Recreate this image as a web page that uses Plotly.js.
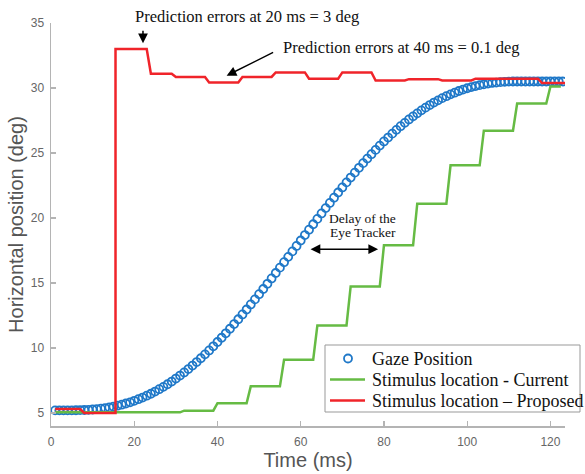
<!DOCTYPE html>
<html>
<head>
<meta charset="utf-8">
<script src="https://cdn.plot.ly/plotly-3.0.1.min.js"></script>
<style>
html,body{margin:0;padding:0;background:#fff;}
#chart{width:585px;height:474px;}
</style>
</head>
<body>
<div id="chart"></div>
<script>
// Gaze position samples (ms, deg)
var gazeT = [1,2,3,4,5,6,7,8,9,10,11,12,13,14,15,16,17,18,19,20,
  21,22,23,24,25,26,27,28,29,30,31,32,33,34,35,36,37,38,39,40,
  41,42,43,44,45,46,47,48,49,50,51,52,53,54,55,56,57,58,59,60,
  61,62,63,64,65,66,67,68,69,70,71,72,73,74,75,76,77,78,79,80,
  81,82,83,84,85,86,87,88,89,90,91,92,93,94,95,96,97,98,99,100,
  101,102,103,104,105,106,107,108,109,110,111,112,113,114,115,116,117,118,119,120,
  121,122,123];
var gazeV = [5.20,5.20,5.20,5.20,5.20,5.21,5.22,5.23,5.24,5.27,
  5.30,5.33,5.38,5.43,5.49,5.56,5.64,5.73,5.82,5.94,
  6.06,6.19,6.33,6.48,6.65,6.83,7.01,7.21,7.42,7.65,
  7.88,8.12,8.38,8.65,8.92,9.21,9.51,9.81,10.13,10.46,
  10.79,11.13,11.48,11.84,12.21,12.58,12.96,13.35,13.74,14.14,
  14.54,14.94,15.35,15.77,16.18,16.60,17.01,17.43,17.85,18.27,
  18.69,19.10,19.52,19.93,20.35,20.76,21.16,21.56,21.96,22.35,
  22.74,23.11,23.49,23.86,24.22,24.57,24.91,25.24,25.57,25.89,
  26.19,26.49,26.78,27.06,27.32,27.58,27.82,28.05,28.28,28.49,
  28.69,28.88,29.05,29.22,29.37,29.51,29.64,29.77,29.88,29.98,
  30.07,30.15,30.22,30.28,30.34,30.39,30.42,30.45,30.47,30.49,
  30.50,30.50,30.50,30.50,30.50,30.50,30.50,30.50,30.50,30.50,
  30.50,30.50,30.50];

// Stimulus location - Current (step breakpoints)
var currentT = [1,31,32,39,40,47,48,55,56,63,64,71,72,79,80,87,88,95,96,103,104,111,112,119,120,122.5];
var currentV = [5.05,5.05,5.18,5.18,5.75,5.75,7.05,7.05,9.1,9.1,11.74,11.74,14.74,14.74,17.9,17.9,21.1,21.1,24.05,24.05,26.72,26.72,28.8,28.8,30.12,30.12];

// Stimulus location - Proposed (step breakpoints)
var proposedT = [1,7,8,15.5,15.5,23,24,29,30,37,38,45,46,53,54,61,62,69,70,77,78,85,86,93,94,101,102,117,118,123.5];
var proposedV = [5.3,5.3,5.0,5.0,33.0,33.0,31.1,31.1,30.85,30.85,30.43,30.43,30.85,30.85,31.2,31.2,30.72,30.72,31.2,31.2,30.58,30.58,30.68,30.68,30.58,30.58,30.72,30.72,30.38,30.38];

var seriesNames = ['Gaze Position', 'Stimulus location - Current', 'Stimulus location \u2013 Proposed'];
var xTicks = [0,20,40,60,80,100,120];
var yTicks = [5,10,15,20,25,30,35];

var serif = '"Liberation Serif", "Times New Roman", serif';
var sans = '"Liberation Sans", Arial, Helvetica, sans-serif';
var blue = '#1f78c8', green = '#66bb44', red = '#f0242a';

// plot-area geometry (pixels) used to place the legend box
var W = 585, H = 474, M = {l: 51, r: 20, t: 23, b: 48};
var PW = W - M.l - M.r, PH = H - M.t - M.b;
function px(x) { return (x - M.l) / PW; }
function py(y) { return (H - M.b - y) / PH; }

var traces = [
  {x: gazeT, y: gazeV, type: 'scatter', mode: 'markers', name: seriesNames[0],
   marker: {symbol: 'circle-open', size: 8, color: blue, line: {width: 1.8, color: blue}}},
  {x: currentT, y: currentV, type: 'scatter', mode: 'lines', name: seriesNames[1],
   line: {color: green, width: 2.5}},
  {x: proposedT, y: proposedV, type: 'scatter', mode: 'lines', name: seriesNames[2],
   line: {color: red, width: 2.5}}
];

var axisCommon = {
  showline: true, linecolor: '#b4b4b4', linewidth: 1.5,
  ticks: 'inside', ticklen: 5, tickwidth: 1.2, tickcolor: '#b4b4b4',
  showgrid: false, zeroline: false, mirror: false,
  tickfont: {family: sans, size: 12, color: '#666'}
};

// legend drawn as a box with samples
var legRows = [358.5, 379.5, 400.5];
var shapes = [
  {type: 'rect', xref: 'paper', yref: 'paper', x0: px(325), x1: px(580), y0: py(412), y1: py(345),
   line: {color: '#999', width: 1}, fillcolor: '#fff', layer: 'above'},
  {type: 'circle', xref: 'paper', yref: 'paper', x0: px(344), x1: px(352), y0: py(legRows[0] + 4), y1: py(legRows[0] - 4),
   line: {color: blue, width: 1.8}, layer: 'above'},
  {type: 'line', xref: 'paper', yref: 'paper', x0: px(330), x1: px(365), y0: py(legRows[1]), y1: py(legRows[1]),
   line: {color: green, width: 2.5}, layer: 'above'},
  {type: 'line', xref: 'paper', yref: 'paper', x0: px(330), x1: px(365), y0: py(legRows[2]), y1: py(legRows[2]),
   line: {color: red, width: 2.5}, layer: 'above'}
];

var annotations = [
  {xref: 'x', yref: 'y', x: 47.0, y: 35, yshift: 7, text: 'Prediction errors at 20 ms = 3 deg',
   showarrow: false, font: {family: serif, size: 16.5, color: '#111'}},
  {xref: 'x', yref: 'y', x: 22.1, y: 33.45, text: '', showarrow: true,
   ax: 0, ay: -14, arrowhead: 2, arrowsize: 1.3, arrowwidth: 1.5, arrowcolor: '#000'},
  {xref: 'x', yref: 'y', x: 84.1, y: 33.12, text: 'Prediction errors at 40 ms = 0.1 deg',
   showarrow: false, font: {family: serif, size: 16.5, color: '#111'}},
  {xref: 'x', yref: 'y', x: 42.2, y: 30.95, text: '', showarrow: true,
   ax: 48, ay: -24, arrowhead: 2, arrowsize: 1.3, arrowwidth: 1.5, arrowcolor: '#000'},
  {xref: 'x', yref: 'y', x: 74.9, y: 19.95, text: 'Delay of the',
   showarrow: false, font: {family: serif, size: 13.5, color: '#111'}},
  {xref: 'x', yref: 'y', x: 74.9, y: 18.85, text: 'Eye Tracker',
   showarrow: false, font: {family: serif, size: 13.5, color: '#111'}},
  {xref: 'x', yref: 'y', x: 78.6, y: 17.6, axref: 'x', ayref: 'y', ax: 62.0, ay: 17.6,
   text: '', showarrow: true, arrowside: 'end+start', arrowhead: 2, startarrowhead: 2,
   arrowsize: 1.3, startarrowsize: 1.3, arrowwidth: 1.5, arrowcolor: '#000'}
];
for (var i = 0; i < seriesNames.length; i++) {
  annotations.push({xref: 'paper', yref: 'paper', x: px(370), y: py(legRows[i]), xanchor: 'left', yanchor: 'middle',
    text: seriesNames[i], showarrow: false, font: {family: serif, size: 18, color: '#111'}});
}

var layout = {
  width: W, height: H,
  margin: M,
  paper_bgcolor: '#fff', plot_bgcolor: '#fff',
  showlegend: false,
  xaxis: Object.assign({}, axisCommon, {
    range: [0, 123.5], tickvals: xTicks, ticktext: xTicks.map(String),
    ticklabelstandoff: 4,
    title: {text: 'Time (ms)', font: {family: sans, size: 20, color: '#555'}, standoff: 4}
  }),
  yaxis: Object.assign({}, axisCommon, {
    range: [4, 35], tickvals: yTicks, ticktext: yTicks.map(String),
    ticklabelstandoff: 3,
    title: {text: 'Horizontal position (deg)', font: {family: sans, size: 20, color: '#555'}, standoff: 1}
  }),
  shapes: shapes,
  annotations: annotations
};

Plotly.newPlot('chart', traces, layout, {displayModeBar: false, staticPlot: true});
</script>
</body>
</html>
